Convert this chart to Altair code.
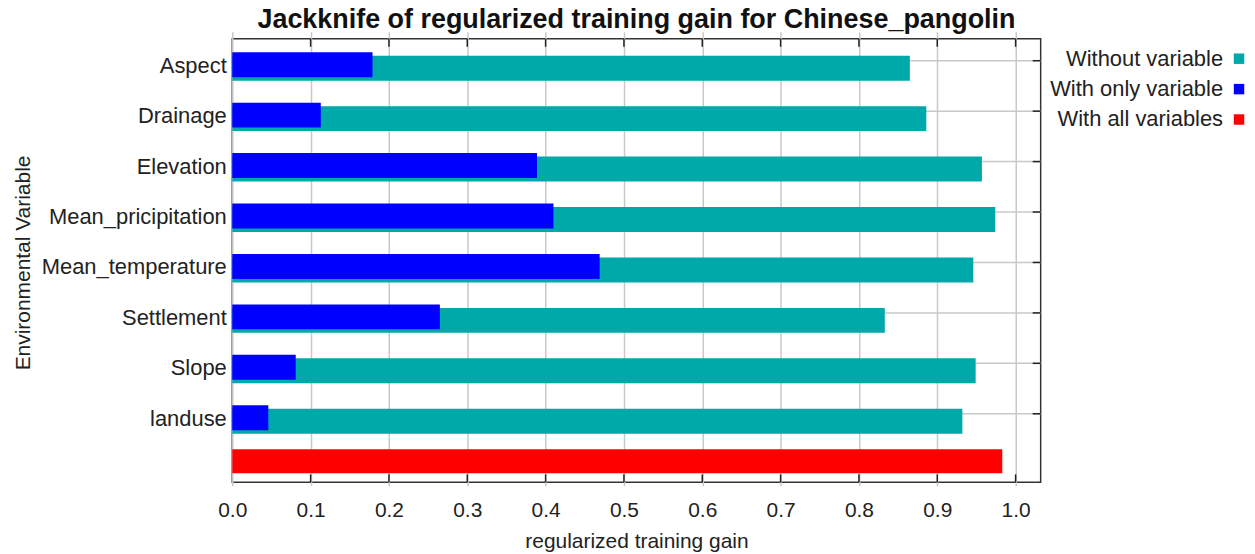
import altair as alt
import pandas as pd

# ---- data ----
variables = ["Aspect", "Drainage", "Elevation", "Mean_pricipitation",
             "Mean_temperature", "Settlement", "Slope", "landuse"]
without_gain = [0.865, 0.886, 0.957, 0.974, 0.946, 0.833, 0.949, 0.932]
only_gain = [0.179, 0.113, 0.389, 0.410, 0.469, 0.265, 0.081, 0.046]
all_label = "All"
all_gain = 0.983
series_names = ["Without variable", "With only variable", "With all variables"]
series_colors = ["#00a9a9", "#0000ff", "#ff0000"]
x_ticks = [0.0, 0.1, 0.2, 0.3, 0.4, 0.5, 0.6, 0.7, 0.8, 0.9, 1.0]
x_inner_ticks = [0.1, 0.2, 0.3, 0.4, 0.5, 0.6, 0.7, 0.8, 0.9, 1.0]

FONT = "Liberation Sans"
W, H = 811, 445

df_without = pd.DataFrame({"variable": variables, "gain": without_gain,
                           "series": series_names[0]})
df_only = pd.DataFrame({"variable": variables, "gain": only_gain,
                        "series": series_names[1]})
df_all = pd.DataFrame({"variable": [all_label], "gain": [all_gain],
                       "series": series_names[2]})
df_vars = pd.DataFrame({"variable": variables})
df_ticks = pd.DataFrame({"t": x_inner_ticks})
df_legend = pd.DataFrame({"series": series_names})

y_scale = alt.Scale(domain=variables + [all_label], range=[-3.3, 452.1],
                    paddingInner=0, paddingOuter=0)
x_scale = alt.Scale(domain=[0, 1.032], nice=False, zero=True)
color_scale = alt.Scale(domain=series_names, range=series_colors)

y_axis = alt.Axis(title="Environmental Variable",
                  labelExpr="datum.value == 'All' ? '' : datum.value",
                  ticks=False, domain=False, grid=False, labelLimit=400,
                  labelFontSize=22, labelPadding=6, labelOffset=5,
                  labelColor="#222", titleColor="#222",
                  titleFontSize=21, titleFontWeight="normal", titlePadding=8)
x_axis = alt.Axis(title="regularized training gain", values=x_ticks, format=".1f",
                  grid=True, gridColor="#c8c8c8", gridWidth=1.5,
                  ticks=False, domain=False, labelFlush=False,
                  labelFontSize=21, labelPadding=17, labelColor="#222",
                  titleColor="#222", titleFontSize=21, titleFontWeight="normal",
                  titlePadding=10)

Y = lambda: alt.Y("variable:N", scale=y_scale, axis=y_axis, sort=variables + [all_label])
X = lambda f: alt.X(f, scale=x_scale, axis=x_axis)
C = lambda: alt.Color("series:N", scale=color_scale, legend=None)

hgrid = alt.Chart(df_vars).mark_rule(color="#c8c8c8", strokeWidth=1.5).encode(
    y=Y(), x=alt.value(0), x2=alt.value(W))

teal = alt.Chart(df_without).mark_bar(height=25, yOffset=7.5).encode(
    y=Y(), x=X("gain:Q"), color=C())
blue = alt.Chart(df_only).mark_bar(height=25, yOffset=4).encode(
    y=Y(), x=X("gain:Q"), color=C())
red = alt.Chart(df_all).mark_bar(height=24, yOffset=-3).encode(
    y=Y(), x=X("gain:Q"), color=C())

right_ticks = alt.Chart(df_vars).mark_rule(color="#222", strokeWidth=1.5).encode(
    y=Y(), x=alt.value(W - 8), x2=alt.value(W))
top_ticks = alt.Chart(df_ticks).mark_rule(color="#222", strokeWidth=1.5).encode(
    x=X("t:Q"), y=alt.value(0), y2=alt.value(8))
bottom_ticks = alt.Chart(df_ticks).mark_rule(color="#222", strokeWidth=1.5).encode(
    x=X("t:Q"), y=alt.value(H - 8), y2=alt.value(H))

main = alt.layer(hgrid, teal, blue, red, right_ticks, top_ticks, bottom_ticks)

# legend drawn to the right of the plot: labels right-aligned, squares after them
leg_y = alt.Y("series:N", sort=series_names,
              scale=alt.Scale(domain=series_names, range=[20, 81], padding=0),
              axis=None)
leg_text = alt.Chart(df_legend).mark_text(
    align="right", baseline="middle", fontSize=22, color="#222", font=FONT).encode(
    y=leg_y, x=alt.value(994), text="series:N")
leg_sym = alt.Chart(df_legend).mark_square(size=110, opacity=1).encode(
    y=leg_y, x=alt.value(1010), color=C())
legend = alt.layer(leg_text, leg_sym)

chart = alt.layer(main, legend).resolve_scale(y="independent").properties(
    width=W, height=H,
    title=alt.TitleParams("Jackknife of regularized training gain for Chinese_pangolin",
                          fontSize=27, fontWeight="bold", color="#111",
                          anchor="middle", offset=4),
    autosize=alt.AutoSizeParams(type="none"),
    padding={"left": 225, "top": 30, "right": 207, "bottom": 70},
).configure(font=FONT).configure_view(stroke="#333", strokeWidth=1.5)

chart.save("out.html", embed_options={"renderer": "svg", "actions": False})
